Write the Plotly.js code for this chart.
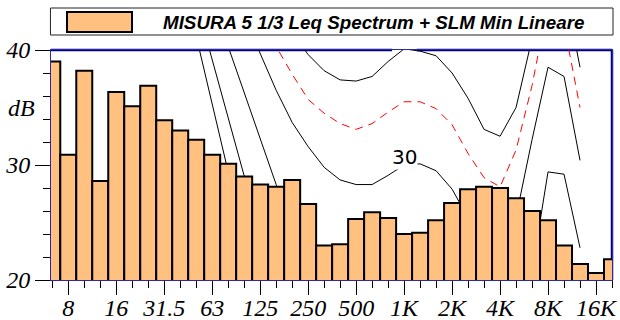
<!DOCTYPE html>
<html><head><meta charset="utf-8">
<script src="https://cdn.plot.ly/plotly-3.0.1.min.js"></script>
<style>html,body{margin:0;padding:0;background:#fff}#chart{width:620px;height:320px}</style>
</head><body><div id="chart"></div>
<script>
// 1/3 octave band centres (Hz)
const bands = ['6.3','8','10','12.5','16','20','25','31.5','40','50','63','80','100','125','160','200','250','315','400','500','630','800','1K','1.25K','1.6K','2K','2.5K','3.15K','4K','5K','6.3K','8K','10K','12.5K','16K','20K'];
const tickLabels = ['8','16','31.5','63','125','250','500','1K','2K','4K','8K','16K'];
const yTicks = [20, 30, 40];
// Leq spectrum (dB)
const leq = [39.0,30.9,38.2,28.6,36.35,35.1,36.9,33.9,33.0,32.2,30.9,30.1,29.0,28.3,28.1,28.7,26.6,23.0,23.1,25.3,25.9,25.4,24.0,24.1,25.2,26.7,27.9,28.1,28.0,27.1,26.0,25.2,23.0,21.4,20.6,21.8];
const N = null;
// Reference curves (dB), one value per band, null = not drawn
const curveA = [N,N,N,N,N,N,N,N,N,41.2,35.3,29.4,24.0,N,N,N,N,N,N,N,N,N,N,N,N,N,N,N,N,N,N,N,N,N,N,N];
const curveB = [N,N,N,N,N,N,N,N,N,44.2,39.1,34.1,29.0,24.0,N,N,N,N,N,N,N,N,N,N,N,N,N,N,N,N,N,N,N,N,N,N];
const curve20 = [N,N,N,N,N,N,N,N,N,N,N,40.3,36.3,32.4,28.3,24.5,23.0,21.5,21.0,20.5,20.3,20.2,20.0,19.8,19.5,18.5,17.0,16.0,16.0,17.5,20.8,29.4,29.2,22.8,N,N];
const curve30 = [N,N,N,N,N,N,N,N,N,N,N,N,42.9,39.7,36.5,33.7,31.6,29.8,28.7,28.3,28.3,29.1,30.0,30.1,29.5,27.9,25.4,23.5,23.0,25.5,32.2,38.5,37.7,30.4,N,N];
const curve40 = [N,N,N,N,N,N,N,N,N,N,N,N,N,N,N,41.5,39.6,38.2,37.4,37.3,37.7,39.0,40.1,39.9,39.5,38.0,35.8,33.1,32.5,35.0,41.7,47.0,45.6,38.5,N,N];
const limit = [N,N,N,N,N,N,N,N,N,N,N,N,N,43.1,40.3,37.9,35.7,34.5,33.6,33.1,33.6,34.6,35.5,35.5,34.9,33.5,31.0,28.9,28.1,31.3,36.9,44.0,42.2,35.0,N,N];
const legendText = 'MISURA 5 1/3 Leq Spectrum + SLM Min Lineare';
const curveLabel = '30';

const idx = bands.map((_, i) => i);
const majorTicks = tickLabels.map(l => bands.indexOf(l));
const xr = [-0.08, 35];
const yr = [20, 40];
const barColor = '#FFC080';
const navy = '#000080';
const axisBlue = '#2a2aa8';

function line(y, color, dash) {
  return {x: idx, y: y, type: 'scatter', mode: 'lines', xaxis: 'x', yaxis: 'y',
    line: {color: color, width: 1, dash: dash || 'solid'}, connectgaps: false,
    hoverinfo: 'skip', showlegend: false};
}

const traces = [
  line(curveA, '#000'), line(curveB, '#000'), line(curve20, '#000'),
  line(curve30, '#000'), line(curve40, '#000'), line(limit, '#FF0000', '8px,6px'),
  {x: idx, y: leq, type: 'bar', xaxis: 'x2', yaxis: 'y2', width: 1,
   marker: {color: barColor, line: {color: '#000', width: 2}}, showlegend: false, hoverinfo: 'skip'}
];

const tickFont = {family: 'Liberation Serif', size: 24, style: 'italic', color: '#000'};

const layout = {
  width: 620, height: 320,
  margin: {l: 51, r: 8, t: 50, b: 40},
  paper_bgcolor: '#fff', plot_bgcolor: '#fff',
  showlegend: false, bargap: 0,
  xaxis: {range: xr, tickmode: 'array', tickvals: majorTicks, ticktext: tickLabels,
    ticks: 'outside', ticklen: 14, tickcolor: '#000', tickwidth: 1,
    showline: true, linecolor: axisBlue, linewidth: 1, mirror: true,
    showgrid: false, zeroline: false, tickfont: tickFont, automargin: false, ticklabelstandoff: -8,
    minor: {tickmode: 'array', tickvals: idx, ticks: 'outside', ticklen: 7, tickcolor: '#000', showgrid: false}},
  yaxis: {range: yr, tickmode: 'array', tickvals: yTicks,
    ticks: 'outside', ticklen: 15, tickcolor: '#000', tickwidth: 1,
    showline: true, linecolor: axisBlue, linewidth: 1, mirror: true,
    showgrid: false, zeroline: false, tickfont: tickFont, automargin: false, ticklabelstandoff: 0,
    minor: {dtick: 2, tick0: 20, ticks: 'outside', ticklen: 7, tickcolor: '#000', showgrid: false}},
  xaxis2: {range: xr, overlaying: 'x', anchor: 'y2', visible: false},
  yaxis2: {range: yr, overlaying: 'y', anchor: 'x2', visible: false},
  shapes: [
    {type: 'line', xref: 'paper', yref: 'paper', x0: 0, x1: 0.608, y0: 1, y1: 1, line: {color: navy, width: 2.5}, layer: 'below'},
    {type: 'line', xref: 'paper', yref: 'paper', x0: 0.652, x1: 1, y0: 1, y1: 1, line: {color: navy, width: 2.5}, layer: 'below'},
    {type: 'line', xref: 'paper', yref: 'paper', x0: 1, x1: 1, y0: 0, y1: 1, line: {color: navy, width: 2.5}, layer: 'below'},
    {type: 'rect', xref: 'paper', yref: 'paper', x0: -0.001, x1: 1.0018, y0: 1.0652, y1: 1.1826, line: {color: '#222', width: 1}, fillcolor: '#fff'},
    {type: 'rect', xref: 'paper', yref: 'paper', x0: 0.0285, x1: 0.1444, y0: 1.0783, y1: 1.1652, line: {color: '#000', width: 2}, fillcolor: barColor}
  ],
  annotations: [
    {xref: 'paper', yref: 'paper', x: 0.1961, y: 1.1217, xanchor: 'left', yanchor: 'middle', showarrow: false,
     text: legendText, font: {family: 'Liberation Sans', size: 18.8, weight: 'bold', style: 'italic', color: '#000'}},
    {xref: 'paper', yref: 'paper', x: -0.0526, y: 0.748, xanchor: 'center', yanchor: 'middle', showarrow: false,
     text: 'dB', font: tickFont},
    {xref: 'x', yref: 'y', x: bands.indexOf('1K'), y: 30.7, xanchor: 'center', yanchor: 'middle', showarrow: false,
     text: curveLabel, bgcolor: '#fff', borderpad: 0, font: {family: 'DejaVu Sans', size: 20, color: '#000'}}
  ]
};

Plotly.newPlot('chart', traces, layout, {staticPlot: true, displayModeBar: false});
</script>
</body></html>
